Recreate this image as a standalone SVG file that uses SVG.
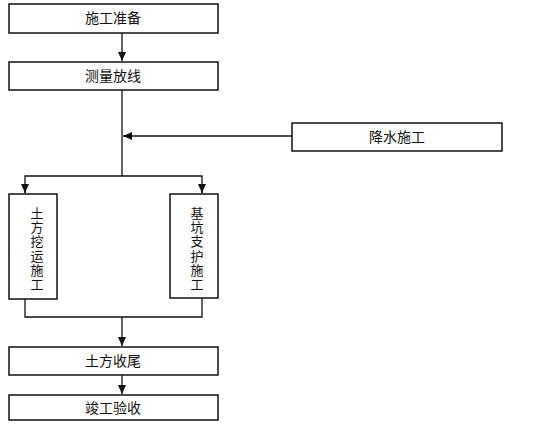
<svg xmlns="http://www.w3.org/2000/svg" width="538" height="428" viewBox="0 0 538 428">
<style>
.box{fill:#fff;stroke:#111;stroke-width:1.5}
.t{font-family:"Liberation Sans","Noto Sans CJK SC",sans-serif;font-size:14px;fill:#111;text-anchor:middle}
.v{font-size:13px}
.c{fill:none;stroke:#111;stroke-width:1.3}
</style>
<defs>
<marker id="ah" markerWidth="10" markerHeight="10" refX="9" refY="5" orient="auto" markerUnits="userSpaceOnUse">
<path d="M0,1 L9,5 L0,9 Z" fill="#111"/>
</marker>
</defs>
<rect width="538" height="428" fill="#fff"/>
<g id="connectors">
<line class="c" x1="122" y1="33" x2="122" y2="61" marker-end="url(#ah)"/>
<line class="c" x1="122" y1="90" x2="122" y2="176"/>
<line class="c" x1="292" y1="136" x2="123" y2="136" marker-end="url(#ah)"/>
<polyline class="c" points="25,193 25,176 202,176 202,193"/>
<line class="c" x1="25" y1="184" x2="25" y2="193" marker-end="url(#ah)"/>
<line class="c" x1="202" y1="184" x2="202" y2="193" marker-end="url(#ah)"/>
<polyline class="c" points="25,299 25,317 202,317 202,298"/>
<line class="c" x1="122" y1="317" x2="122" y2="346" marker-end="url(#ah)"/>
<line class="c" x1="122" y1="375" x2="122" y2="394" marker-end="url(#ah)"/>
</g>
<g id="n1"><rect class="box" x="9" y="4" width="209" height="29"/><text class="t" x="113" y="23">施工准备</text></g>
<g id="n2"><rect class="box" x="9" y="62" width="209" height="28"/><text class="t" x="113" y="81">测量放线</text></g>
<g id="n3"><rect class="box" x="292" y="123" width="210" height="28"/><text class="t" x="397" y="142">降水施工</text></g>
<g id="n4"><rect class="box" x="9" y="194" width="48" height="105"/>
<text class="t v" x="37"><tspan x="37" y="218">土</tspan><tspan x="37" y="232.2">方</tspan><tspan x="37" y="246.4">挖</tspan><tspan x="37" y="260.6">运</tspan><tspan x="37" y="274.8">施</tspan><tspan x="37" y="289">工</tspan></text></g>
<g id="n5"><rect class="box" x="170" y="194" width="48" height="104"/>
<text class="t v" x="197"><tspan x="197" y="218">基</tspan><tspan x="197" y="232.2">坑</tspan><tspan x="197" y="246.4">支</tspan><tspan x="197" y="260.6">护</tspan><tspan x="197" y="274.8">施</tspan><tspan x="197" y="289">工</tspan></text></g>
<g id="n6"><rect class="box" x="9" y="347" width="209" height="28"/><text class="t" x="113" y="366">土方收尾</text></g>
<g id="n7"><rect class="box" x="9" y="395" width="209" height="25"/><text class="t" x="113" y="413">竣工验收</text></g>
</svg>
